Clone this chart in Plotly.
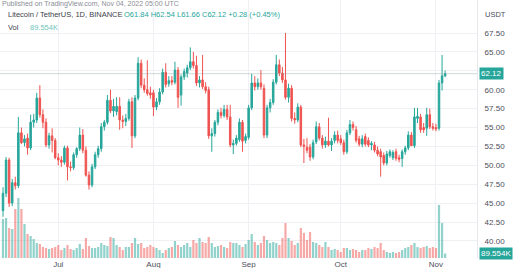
import pandas as pd
import plotly.graph_objects as go

opens = [44.0,46.3,50.7,45.0,47.7,47.3,54.3,53.0,53.6,52.3,55.7,56.0,58.9,56.7,55.7,52.7,53.9,53.3,51.0,50.7,
         50.4,52.3,49.8,49.7,51.4,52.2,54.0,52.0,48.7,47.4,49.8,51.4,52.2,55.1,55.7,58.6,57.2,57.1,57.8,56.0,
         55.8,56.2,58.4,53.9,58.9,63.5,60.6,60.0,59.6,59.6,57.7,58.4,59.7,62.3,60.8,61.2,61.0,62.6,59.3,61.7,
         62.2,62.9,63.7,63.2,60.9,61.3,60.4,60.0,53.9,54.2,55.7,57.0,56.6,57.4,56.4,52.7,52.9,53.4,55.7,53.3,
         53.7,57.6,60.9,60.4,60.9,60.2,54.0,57.6,58.3,61.0,63.3,62.2,61.3,59.0,60.2,56.2,56.0,57.7,52.7,52.4,
         52.4,51.1,53.1,55.1,53.6,52.7,53.2,52.7,53.3,54.0,53.5,53.0,51.8,54.3,55.4,54.7,53.5,52.8,53.8,53.3,
         52.7,52.7,52.0,51.8,51.3,50.3,51.3,51.0,51.8,51.0,50.9,51.8,52.3,54.0,52.6,56.2,56.4,55.0,54.9,56.7,
         55.1,55.0,54.9,60.9,61.84]
highs = [47.1,51.1,51.0,48.2,48.5,56.4,55.0,54.0,54.2,56.7,56.8,59.6,60.6,57.4,56.2,54.3,54.9,53.6,51.6,51.2,
         52.6,52.6,50.5,51.7,52.4,55.0,54.8,52.5,49.2,50.2,51.8,52.6,55.6,56.0,59.3,60.0,58.8,59.0,59.0,56.6,
         56.8,58.8,59.0,59.3,64.3,64.0,61.5,63.9,60.4,60.0,58.9,60.2,62.8,63.5,61.8,61.8,63.7,63.0,62.0,62.8,
         63.3,65.6,65.0,64.5,61.8,64.6,61.0,60.4,54.9,56.0,57.4,57.6,58.0,58.0,58.0,53.4,54.0,56.2,56.0,54.2,
         58.0,62.1,61.8,61.5,62.6,60.7,58.0,58.8,61.4,64.6,64.0,63.0,67.5,60.8,60.6,57.0,58.2,58.0,53.5,53.6,
         52.8,53.4,55.8,55.6,54.0,53.8,56.3,53.6,54.5,54.6,54.0,53.4,54.7,56.0,55.8,55.2,53.9,54.0,54.2,53.7,
         53.2,53.1,52.5,52.2,51.7,51.9,52.1,52.0,52.2,51.4,52.1,52.6,54.5,54.4,57.6,57.6,56.8,55.6,57.6,57.5,
         55.6,55.5,61.3,64.6,62.54]
lows = [43.2,45.8,44.5,44.6,46.8,47.0,52.8,52.5,51.4,52.0,55.0,55.6,56.3,54.9,52.4,52.2,51.7,50.8,50.0,49.8,
        50.1,48.0,49.2,49.4,51.0,51.9,51.6,48.5,46.8,47.1,49.5,51.0,51.8,54.6,55.4,56.9,56.4,56.6,54.7,54.9,
        55.2,55.9,52.3,53.6,58.6,60.2,59.6,59.2,58.8,56.5,57.3,58.0,59.4,60.3,60.4,60.6,60.7,57.6,57.9,61.3,
        61.6,62.6,62.8,60.5,60.3,60.1,59.5,53.5,51.8,53.8,55.3,56.2,56.3,56.0,52.4,51.5,52.6,53.1,51.8,52.9,
        53.4,57.3,59.9,60.0,60.0,53.6,53.6,57.0,58.0,60.7,61.8,60.9,58.7,58.3,55.8,55.5,55.7,52.4,50.3,51.6,
        50.6,50.8,52.8,53.3,52.2,52.3,52.5,51.9,52.9,52.9,52.7,51.4,51.5,54.0,54.6,53.0,52.5,52.4,52.5,52.4,
        52.0,51.7,51.2,48.5,50.0,50.0,51.0,50.7,50.6,50.4,49.8,51.4,52.0,52.6,52.3,55.6,54.3,54.3,53.9,54.8,
        54.6,54.5,54.6,59.9,61.66]
closes = [46.3,50.7,45.0,47.7,47.3,54.3,53.0,53.5,52.3,55.7,56.0,58.9,56.7,55.7,52.7,53.9,53.3,51.0,50.7,50.4,
          52.3,49.8,49.7,51.4,52.2,54.0,52.0,48.7,47.4,49.8,51.4,52.2,55.1,55.7,58.6,57.2,57.8,57.8,56.0,55.8,
          56.2,58.4,53.9,58.9,63.5,60.6,60.0,59.5,59.3,57.7,58.4,59.7,62.3,60.7,61.2,61.0,62.6,59.0,61.7,62.4,
          62.9,63.7,63.2,60.9,61.3,60.4,59.9,53.9,54.2,55.7,57.0,56.6,57.4,56.4,52.7,52.9,53.6,55.7,53.2,53.8,
          57.6,60.9,60.4,60.9,60.4,54.0,57.6,58.3,61.0,63.3,62.2,61.3,59.0,60.2,56.2,56.0,57.7,52.7,52.5,52.0,
          51.1,53.0,55.1,53.6,52.7,53.2,52.7,53.2,54.0,53.3,53.0,51.8,54.3,55.4,55.0,53.3,52.8,53.5,52.8,52.7,
          52.9,52.0,51.5,51.1,50.3,51.5,51.8,51.7,50.9,50.8,51.8,52.3,54.0,52.6,56.4,56.5,54.7,54.7,56.7,55.1,
          54.9,54.8,60.9,61.84,62.12]
volumes_k = [780,800,600,580,980,1200,980,680,480,440,380,300,280,220,200,180,200,220,260,160,
             200,260,180,160,200,280,180,400,240,200,200,220,300,260,240,420,
             400,260,220,160,220,220,300,400,280,300,200,220,260,220,200,160,100,160,200,220,340,260,220,260,
             300,220,360,300,400,320,300,420,300,220,240,
             260,220,200,320,300,300,260,220,280,360,480,320,260,300,440,360,300,320,300,260,400,700,400,340,
             260,300,600,500,360,520,320,300,260,220,320,220,160,180,
             160,120,200,200,160,180,160,120,160,160,200,180,220,200,300,160,120,100,120,100,
             120,160,200,220,260,300,220,200,220,240,200,220,200,1060,700,89.554]

dates = pd.date_range("2022-06-13", periods=len(closes), freq="D")
month_ticks = ["2022-07-01", "2022-08-01", "2022-09-01", "2022-10-01", "2022-11-01"]
month_labels = ["Jul", "Aug", "Sep", "Oct", "Nov"]
price_ticks = [40.0, 42.5, 45.0, 47.5, 50.0, 52.5, 55.0, 57.5, 60.0, 62.5, 65.0, 67.5]
# the 62.50 label is covered by the last-price tag in the original
price_labels = ["" if v == 62.5 else f"{v:.2f}" for v in price_ticks]

GREEN = "#26a69a"
RED = "#ef5350"
vol_colors = ["rgba(38,166,154,0.5)" if c >= o else "rgba(239,83,80,0.5)" for o, c in zip(opens, closes)]

fig = go.Figure()
fig.add_trace(go.Bar(x=dates, y=volumes_k, marker_color=vol_colors, marker_line_width=0,
                     width=0.72 * 86400000, yaxis="y2", showlegend=False))
fig.add_trace(go.Candlestick(x=dates, open=opens, high=highs, low=lows, close=closes,
                             increasing=dict(line=dict(color=GREEN, width=1), fillcolor=GREEN),
                             decreasing=dict(line=dict(color=RED, width=1), fillcolor=RED),
                             whiskerwidth=0, showlegend=False))

FONT = "Liberation Sans"
LBL = "#4c4f5a"
fig.update_layout(
    width=513, height=268, margin=dict(l=0, r=36, t=0, b=10),
    paper_bgcolor="white", plot_bgcolor="white",
    font=dict(family=FONT, size=8, color=LBL),
    bargap=0.3,
    xaxis=dict(type="date", range=["2022-06-12 00:33", "2022-11-14 09:00"],
               tickvals=month_ticks, ticktext=month_labels, showgrid=True, gridcolor="#eef0f3",
               gridwidth=1, zeroline=False, showline=False, ticks="", rangeslider=dict(visible=False),
               tickfont=dict(size=8, color=LBL), fixedrange=True),
    yaxis=dict(side="right", range=[37.74, 71.87], tickvals=price_ticks,
               ticktext=price_labels, showgrid=True, gridcolor="#eef0f3",
               zeroline=False, showline=True, linecolor="#e6e8ec", ticks="", ticklabelstandoff=5,
               tickfont=dict(size=8, color=LBL)),
    yaxis2=dict(overlaying="y", range=[0, 5160], visible=False),
)

# current price line
fig.add_shape(type="line", xref="paper", x0=0, x1=1, yref="y", y0=closes[-1], y1=closes[-1],
              line=dict(color="rgba(120,150,145,0.35)", width=1))

anns = [
    dict(text="Published on TradingView.com, Nov 04, 2022 05:00 UTC", x=0.0, y=3.5, xanchor="left",
         yanchor="middle", font=dict(size=7, color="#8a8d96")),
    dict(text="Litecoin / TetherUS, 1D, BINANCE", x=6, y=15, xanchor="left", yanchor="middle",
         font=dict(size=7.5, color="#3e414b")),
    dict(text="O61.84 H62.54 L61.66 C62.12 +0.28 (+0.45%)", x=122, y=15, xanchor="left",
         yanchor="middle", font=dict(size=7.5, color=GREEN)),
    dict(text="Vol", x=6, y=28, xanchor="left", yanchor="middle", font=dict(size=7.5, color="#3e414b")),
    dict(text="89.554K", x=28, y=28, xanchor="left", yanchor="middle",
         font=dict(size=7.5, color="#6fc4bb")),
    dict(text="USDT", x=483, y=15, xanchor="left", yanchor="middle", font=dict(size=7.5, color=LBL)),
]
for a in anns:
    fig.add_annotation(xref="paper", yref="paper", x=a["x"] / 477, y=1 - a["y"] / 258,
                       text=a["text"], showarrow=False, xanchor=a["xanchor"], yanchor=a["yanchor"],
                       font=dict(family=FONT, **a["font"]))

fig.add_annotation(xref="paper", yref="y", x=479 / 477, y=closes[-1], text=f"{closes[-1]:.2f}",
                   showarrow=False, xanchor="left", yanchor="middle", bgcolor=GREEN,
                   font=dict(family=FONT, size=8, color="white"), borderpad=1)
fig.add_annotation(xref="paper", yref="paper", x=479 / 477, y=1 - 253 / 258,
                   text=f"{volumes_k[-1]:.3f}K", showarrow=False, xanchor="left", yanchor="middle",
                   bgcolor=GREEN, font=dict(family=FONT, size=8, color="white"), borderpad=1)

fig.write_html("out.html")
